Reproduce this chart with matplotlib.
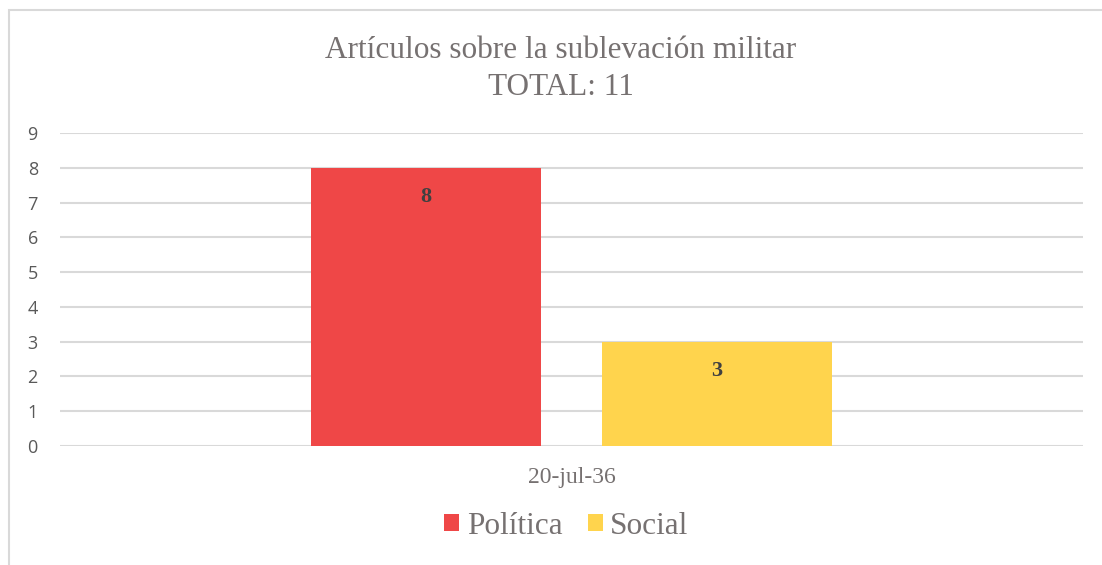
import matplotlib.pyplot as plt
import matplotlib.patches as mpatches
import numpy as np

# datos
categorias = ['20-jul-36']
series = ['Política', 'Social']
valores = [8, 3]
colores = ['#EF4747', '#FFD44D']
titulo = 'Artículos sobre la sublevación militar\nTOTAL: 11'

serif = ['Liberation Serif', 'DejaVu Serif']
gris = '#767171'

fig = plt.figure(figsize=(11.02, 5.65), dpi=100)
fig.patch.set_facecolor('white')

# marco del grafico (solo se ven el borde superior e izquierdo)
fig.patches.append(mpatches.Rectangle((9 / 1102, -0.01), 1.05, 1 - 10 / 565 + 0.01,
                                      transform=fig.transFigure, fill=False,
                                      edgecolor='#d9d9d9', linewidth=1.5, zorder=0))

ax = fig.add_axes([60 / 1102, 1 - 446 / 565, 1023 / 1102, (446 - 133) / 565])

ancho = 0.225
desp = 0.1422
x = np.arange(len(categorias))
for i, (nombre, val, col) in enumerate(zip(series, valores, colores)):
    pos = x + (-desp if i == 0 else desp)
    barras = ax.bar(pos, [val], width=ancho, color=col, label=nombre, zorder=3)
    for b in barras:
        ax.text(b.get_x() + b.get_width() / 2, b.get_height() - 0.83, str(int(b.get_height())),
                ha='center', va='center', fontsize=16, fontweight='bold',
                family=serif, color='#404040', zorder=4)

ax.set_xlim(-0.5, 0.5)
ax.set_ylim(0, 9)
ax.set_yticks(range(0, 10))
ax.set_xticks(x)
ax.set_xticklabels(categorias, family=serif, fontsize=17, color=gris)
ax.tick_params(axis='x', length=0, pad=15)
ax.tick_params(axis='y', length=0, pad=16, labelsize=13, labelcolor='#595959')
for lbl in ax.get_yticklabels():
    lbl.set_family(['Open Sans', 'DejaVu Sans'])
ax.grid(axis='y', color='#d9d9d9', linewidth=1.5, zorder=0)
for s in ax.spines.values():
    s.set_visible(False)

fig.text(561 / 1102, 1 - 69 / 565, titulo, ha='center', va='center',
         fontsize=22.5, family=serif, color=gris, linespacing=1.4)

leg = fig.legend(loc='center', bbox_to_anchor=(0.514, 1 - 526 / 565), ncol=2, frameon=False,
                 prop={'family': serif, 'size': 22.5}, handlelength=0.48, handleheight=0.48,
                 handletextpad=0.25, columnspacing=0.8)
for t in leg.get_texts():
    t.set_color(gris)

fig.savefig('out.png', dpi=100, facecolor='white')
